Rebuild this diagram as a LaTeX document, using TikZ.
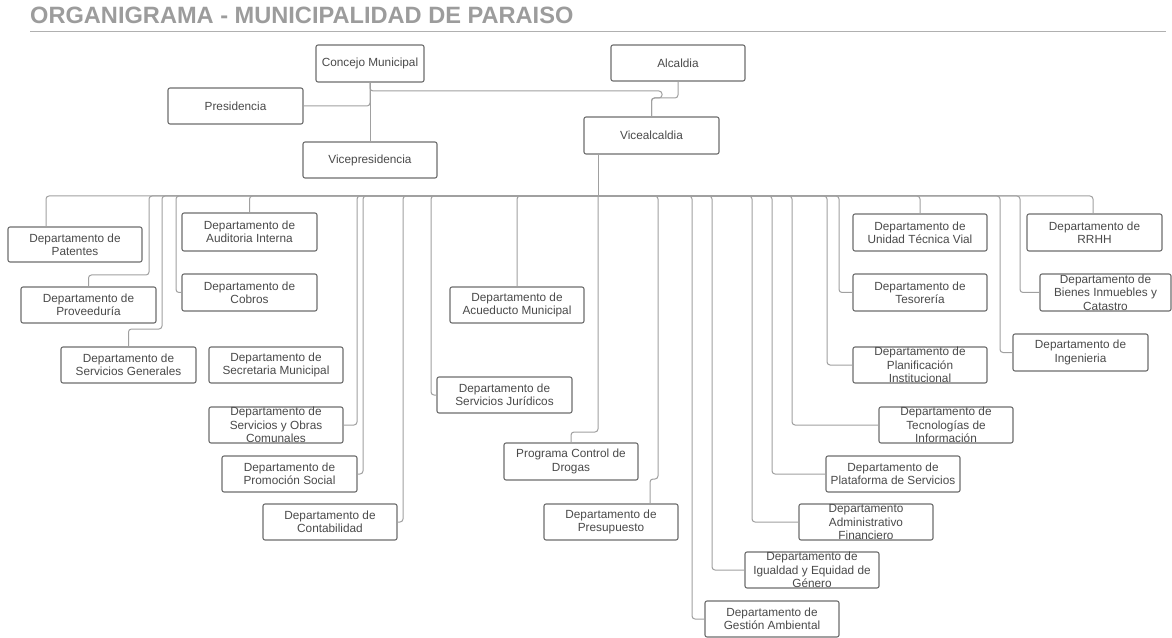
\documentclass[tikz,border=0pt]{standalone}
\usepackage{fontspec}
\setmainfont{Liberation Sans}
\usetikzlibrary{calc}
\definecolor{boxline}{HTML}{6E6E6E}
\definecolor{connline}{HTML}{A0A0A0}
\definecolor{txt}{HTML}{4A4A4A}
\definecolor{titlegray}{HTML}{9C9C9C}
\newcommand{\orgbox}[6]{%
  \node[orgnode, minimum width={(#4-#2)*1bp}, minimum height={(#5-#3)*1bp}] (#1) at ({(#2+#4)/2},{(#3+#5)/2}) {};
  \node[lbl] at (#1.center) {#6};}
\begin{document}
\begin{tikzpicture}[x=1bp,y=-1bp,
  orgnode/.style={draw=boxline, line width=1.1bp, rounded corners=2bp, fill=white, inner sep=0pt},
  lbl/.style={text=txt, align=center, inner sep=0pt, font=\fontsize{11.8bp}{13.3bp}\selectfont},
  conn/.style={draw=connline, line width=1bp, rounded corners=3bp},
  title/.style={text=titlegray, inner sep=0pt, anchor=base west, font=\fontsize{23.6bp}{26bp}\selectfont\bfseries}]
\useasboundingbox[fill=white] (0,0) rectangle (1172,638);

% title
\node[title] (ttl) at (30,23.5) {ORGANIGRAMA - MUNICIPALIDAD DE PARAISO};
\coordinate (ruleL) at (30,31.5);
\coordinate (ruleR) at (1166,31.5);
\draw[draw=titlegray!80, line width=1.4bp] (ruleL) -- (ruleR);

% top level
\orgbox{conc}{316}{45}{424}{82}{Concejo Municipal}
\orgbox{alc}{611}{45}{745}{81}{Alcaldia}
\orgbox{pres}{168}{88}{303}{124}{Presidencia}
\orgbox{vicep}{303}{142}{437}{178}{Vicepresidencia}
\orgbox{vicea}{584}{117}{719}{154}{Vicealcaldia}

% departments
\orgbox{pat}{8}{227}{142}{262}{Departamento de\\Patentes}
\orgbox{prov}{21}{287}{156}{323}{Departamento de\\Proveeduría}
\orgbox{sg}{61}{347}{196}{383}{Departamento de\\Servicios Generales}
\orgbox{aud}{182}{213}{317}{251}{Departamento de\\Auditoria Interna}
\orgbox{cob}{182}{274}{317}{311}{Departamento de\\Cobros}
\orgbox{sec}{209}{347}{343}{383}{Departamento de\\Secretaria Municipal}
\orgbox{so}{209}{407}{343}{443}{Departamento de\\Servicios y Obras\\Comunales}
\orgbox{ps}{222}{456}{357}{492}{Departamento de\\Promoción Social}
\orgbox{cont}{263}{504}{397}{540}{Departamento de\\Contabilidad}
\orgbox{jur}{437}{377}{572}{413}{Departamento de\\Servicios Jurídicos}
\orgbox{acu}{450}{287}{584}{323}{Departamento de\\Acueducto Municipal}
\orgbox{pcd}{504}{443}{638}{480}{Programa Control de\\Drogas}
\orgbox{presu}{544}{504}{678}{540}{Departamento de\\Presupuesto}
\orgbox{ga}{705}{601}{839}{637}{Departamento de\\Gestión Ambiental}
\orgbox{ig}{745}{552}{879}{588}{Departamento de\\Igualdad y Equidad de\\Género}
\orgbox{adm}{799}{504}{933}{540}{Departamento\\Administrativo\\Financiero}
\orgbox{plat}{826}{456}{960}{492}{Departamento de\\Plataforma de Servicios}
\orgbox{tec}{879}{407}{1013}{443}{Departamento de\\Tecnologías de\\Información}
\orgbox{plan}{853}{347}{987}{383}{Departamento de\\Planificación\\Institucional}
\orgbox{tes}{853}{274}{987}{311}{Departamento de\\Tesorería}
\orgbox{utv}{853}{214}{987}{251}{Departamento de\\Unidad Técnica Vial}
\orgbox{ing}{1013}{334}{1148}{371}{Departamento de\\Ingenieria}
\orgbox{bien}{1040}{274}{1171}{311}{Departamento de\\Bienes Inmuebles y\\Catastro}
\orgbox{rrhh}{1027}{214}{1162}{251}{Departamento de\\RRHH}

% connectors
\coordinate (bus) at (598,196);

\draw[conn] (conc.south) -- (vicep.north);
\draw[conn] (pres.east) -| (conc.south);
\draw[conn] (conc.south) |- (662,91) -- (662,98) -| (vicea.north);
\draw[conn] (alc.south) -- (678,98) -| (vicea.north);
\draw[conn] (vicea.south -| 598,0) -- (bus);

\draw[conn] (bus) -| (pat.north -| 46,0);
\draw[conn] (bus) -| (149,275) -| (prov.north);
\draw[conn] (bus) -| (162,329) -| (sg.north);
\draw[conn] (bus) -| (cob.west -| 176,0) -- (cob.west);
\draw[conn] (bus) -| (aud.north);
\draw[conn] (bus) -| (so.east -| 357,0) -- (so.east);
\draw[conn] (bus) -| (ps.east -| 363,0) -- (ps.east);
\draw[conn] (bus) -| (cont.east -| 403,0) -- (cont.east);
\draw[conn] (bus) -| (jur.west -| 431,0) -- (jur.west);
\draw[conn] (bus) -| (acu.north);
\draw[conn] (bus) -- (598,432) -| (pcd.north);
\draw[conn] (bus) -| (658,479) -| (presu.north -| 650,0);
\draw[conn] (bus) -| (ga.west -| 692,0) -- (ga.west);
\draw[conn] (bus) -| (ig.west -| 712,0) -- (ig.west);
\draw[conn] (bus) -| (adm.west -| 752,0) -- (adm.west);
\draw[conn] (bus) -| (plat.west -| 772,0) -- (plat.west);
\draw[conn] (bus) -| (tec.west -| 792,0) -- (tec.west);
\draw[conn] (bus) -| (plan.west -| 827,0) -- (plan.west);
\draw[conn] (bus) -| (tes.west -| 839,0) -- (tes.west);
\draw[conn] (bus) -| (utv.north);
\draw[conn] (bus) -| (ing.west -| 1000,0) -- (ing.west);
\draw[conn] (bus) -| (bien.west -| 1020,0) -- (bien.west);
\draw[conn] (bus) -| (rrhh.north -| 1093,0);
\end{tikzpicture}
\end{document}
